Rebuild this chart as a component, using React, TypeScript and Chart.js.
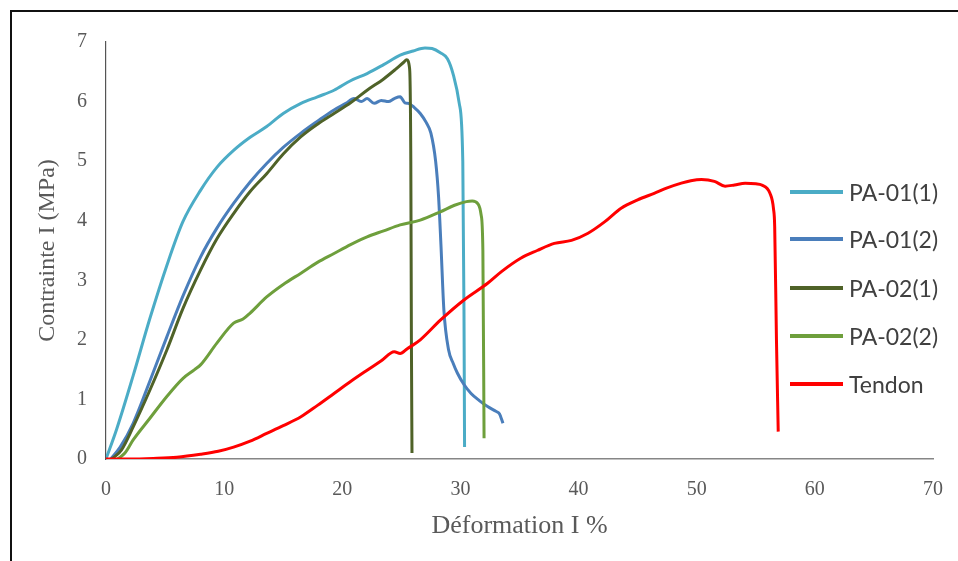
import React, { useEffect, useRef } from "react";
import { Chart, registerables } from "chart.js";

Chart.register(...registerables);

// ---- Data ----
const seriesNames = ["PA-01(1)", "PA-01(2)", "PA-02(1)", "PA-02(2)", "Tendon"];
const seriesColors = ["#4BACC6", "#4A7EBB", "#4F6228", "#6E9F3C", "#FF0000"];

const pa011X = [0, 0.9, 2.3, 3.7, 5.15, 6.5, 8.0, 9.4, 10.8, 12.2, 13.6, 15.0, 16.5, 17.9, 19.3, 20.7, 22.1, 23.5, 24.9, 26.0, 27.0, 27.6, 28.3, 28.9, 29.4, 29.9, 30.2, 30.3, 30.35];
const pa011Y = [0, 0.5, 1.4, 2.35, 3.25, 3.98, 4.51, 4.9, 5.18, 5.4, 5.58, 5.8, 5.97, 6.08, 6.19, 6.35, 6.47, 6.62, 6.78, 6.85, 6.9, 6.89, 6.82, 6.72, 6.45, 5.97, 5.0, 2.5, 0.2];

const pa012X = [0.4, 1.2, 2.3, 3.7, 5.15, 6.5, 8.0, 9.4, 10.8, 12.2, 13.6, 15.0, 16.5, 17.9, 19.3, 20.3, 21.0, 21.6, 22.1, 22.7, 23.3, 23.9, 24.4, 24.9, 25.3, 25.6, 26.1, 26.6, 27.1, 27.5, 27.9, 28.15, 28.35, 28.6, 29.0, 29.4, 29.75, 30.3, 30.9, 31.6, 32.3, 33.0, 33.3, 33.6];
const pa012Y = [0, 0.2, 0.6, 1.3, 2.05, 2.73, 3.39, 3.88, 4.29, 4.65, 4.96, 5.23, 5.47, 5.67, 5.86, 5.97, 6.05, 6.0, 6.05, 5.97, 6.02, 6.0, 6.05, 6.08, 5.98, 5.97, 5.9, 5.8, 5.65, 5.47, 5.0, 4.4, 3.6, 2.5, 1.83, 1.6, 1.44, 1.25, 1.1, 0.98, 0.88, 0.8, 0.76, 0.6];

const pa021X = [0.5, 1.3, 2.3, 3.7, 5.15, 6.5, 8.0, 9.4, 10.8, 12.2, 13.6, 15.0, 16.5, 17.9, 19.3, 20.7, 22.1, 23.5, 24.5, 25.2, 25.45, 25.7, 25.8, 25.85, 25.9];
const pa021Y = [0, 0.15, 0.54, 1.15, 1.83, 2.52, 3.17, 3.7, 4.12, 4.49, 4.79, 5.12, 5.41, 5.62, 5.8, 5.98, 6.19, 6.38, 6.54, 6.66, 6.7, 6.55, 5.0, 2.0, 0.1];

const pa022X = [1.0, 1.6, 2.3, 3.7, 5.15, 6.5, 7.5, 8.0, 9.4, 10.8, 11.6, 12.2, 13.6, 15.0, 16.5, 17.9, 19.3, 20.7, 22.1, 23.5, 24.9, 26.6, 28.3, 29.5, 30.5, 31.0, 31.5, 31.75, 31.9, 32.0];
const pa022Y = [0, 0.1, 0.32, 0.68, 1.05, 1.35, 1.5, 1.58, 1.95, 2.28, 2.35, 2.45, 2.72, 2.93, 3.12, 3.3, 3.45, 3.6, 3.73, 3.83, 3.93, 4.01, 4.15, 4.26, 4.32, 4.33, 4.28, 4.1, 3.5, 0.35];

const tendonX = [0, 2, 4, 6, 8.0, 9.5, 10.8, 12.2, 13.6, 15.0, 16.5, 17.9, 19.3, 20.7, 22.1, 23.3, 24.4, 24.9, 25.5, 26.6, 28.3, 30.3, 32.3, 33.5, 35.1, 36.5, 37.95, 39.4, 40.8, 42.2, 43.6, 45.0, 46.4, 47.5, 48.7, 49.5, 50.4, 51.5, 52.4, 53.2, 54.1, 55.0, 55.5, 56.2, 56.5, 56.6, 56.75, 56.9];
const tendonY = [0, 0, 0.01, 0.03, 0.08, 0.13, 0.2, 0.3, 0.43, 0.56, 0.71, 0.9, 1.1, 1.3, 1.49, 1.65, 1.8, 1.77, 1.85, 2.0, 2.33, 2.67, 2.95, 3.15, 3.37, 3.5, 3.62, 3.67, 3.79, 3.98, 4.21, 4.35, 4.46, 4.55, 4.63, 4.67, 4.69, 4.66, 4.58, 4.6, 4.63, 4.62, 4.6, 4.46, 4.2, 3.9, 2.0, 0.46];

const xTitle = "Déformation I %";
const yTitle = "Contrainte I (MPa)";
const xMin = 0, xMax = 70, xStep = 10;
const yMin = 0, yMax = 7, yStep = 1;

const allX = [pa011X, pa012X, pa021X, pa022X, tendonX];
const allY = [pa011Y, pa012Y, pa021Y, pa022Y, tendonY];

const legendTops = [192, 239, 288, 336, 384];

export default function App() {
  const ref = useRef<HTMLCanvasElement>(null);

  useEffect(() => {
    document.body.style.margin = "0";
    const datasets = seriesNames.map((name, i) => ({
      label: name,
      data: allX[i].map((x, j) => ({ x, y: allY[i][j] })),
      borderColor: seriesColors[i],
      backgroundColor: seriesColors[i],
      borderWidth: 3,
      pointRadius: 0,
      cubicInterpolationMode: "monotone",
      fill: false,
      order: seriesNames.length - i,
    }));
    const chart = new Chart(ref.current as HTMLCanvasElement, {
      type: "line",
      data: { datasets },
      options: {
        animation: false,
        responsive: false,
        maintainAspectRatio: false,
        layout: { padding: { left: 0, top: 42, right: 0, bottom: 0 } },
        plugins: { legend: { display: false }, tooltip: { enabled: false } },
        scales: {
          x: {
            type: "linear",
            min: xMin,
            max: xMax,
            afterFit: (s: any) => {
              s.height = 102;
              s.paddingLeft = 0;
              s.paddingRight = 25;
            },
            grid: { display: false, drawTicks: false },
            border: { display: true, color: "#868686", width: 1.5 },
            ticks: {
              stepSize: xStep,
              padding: 19,
              color: "#595959",
              font: { family: "'Liberation Serif', 'Times New Roman', serif", size: 20 },
            },
            title: {
              display: true,
              text: xTitle,
              color: "#595959",
              font: { family: "'Liberation Serif', 'Times New Roman', serif", size: 26, lineHeight: 1.2 },
              padding: { top: 0, bottom: 19 },
            },
          },
          y: {
            type: "linear",
            min: yMin,
            max: yMax,
            afterFit: (s: any) => { s.width = 106; },
            grid: { display: false, drawTicks: false },
            border: { display: true, color: "#555555", width: 1.2 },
            ticks: {
              stepSize: yStep,
              padding: 19,
              color: "#595959",
              font: { family: "'Liberation Serif', 'Times New Roman', serif", size: 20 },
            },
            title: {
              display: true,
              text: yTitle,
              color: "#595959",
              font: { family: "'Liberation Serif', 'Times New Roman', serif", size: 24, lineHeight: 1.2 },
              padding: { top: 33, bottom: 0 },
            },
          },
        },
      },
    } as any);
    return () => chart.destroy();
  }, []);

  return (
    <div style={{ position: "relative", width: 958, height: 561, overflow: "hidden", background: "#ffffff" }}>
      <div
        style={{
          position: "absolute",
          left: 10,
          top: 10,
          width: 960,
          height: 560,
          borderLeft: "2px solid #111",
          borderTop: "2px solid #111",
        }}
      />
      <canvas ref={ref} width={958} height={561} style={{ position: "absolute", left: 0, top: 0 }} />
      {seriesNames.map((name, i) => (
        <div
          key={name}
          style={{
            position: "absolute",
            left: 790,
            top: legendTops[i] - 15,
            height: 30,
            display: "flex",
            alignItems: "center",
            fontFamily: "Lato, 'Liberation Sans', sans-serif",
            fontSize: 23,
            color: "#404040",
            whiteSpace: "nowrap",
          }}
        >
          <span style={{ display: "inline-block", width: 53, height: 3.5, background: seriesColors[i], marginRight: 6 }} />
          <span>{name}</span>
        </div>
      ))}
    </div>
  );
}
